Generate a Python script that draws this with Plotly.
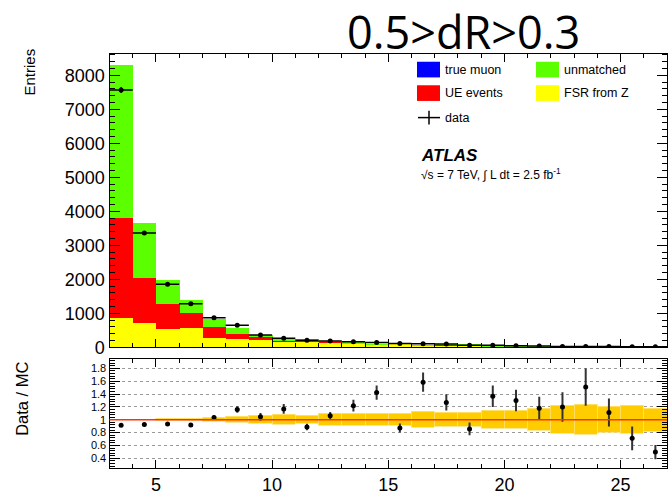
import plotly.graph_objects as go
import numpy as np

W, H = 669, 499

# ---- data ----
bin_lo = list(range(3, 27))
bin_centers = [b + 0.5 for b in bin_lo]

fsr_from_z = [866, 713, 548, 577, 289, 260, 211, 164, 190, 150, 115, 88,
              112, 56, 67, 65, 38, 32, 31, 21, 16, 19, 26, 31]
ue_events = [2951, 1327, 721, 424, 326, 144, 98, 36, 30, 20, 14, 10,
             14, 7, 8, 8, 5, 4, 3, 3, 2, 2, 3, 3]
unmatched = [4501, 1615, 722, 393, 225, 156, 41, 30, 20, 9, 6, 4,
             6, 3, 4, 3, 2, 2, 2, 1, 1, 1, 2, 2]
true_muon = [0] * 24
data_counts = [7568, 3367, 1860, 1281, 870, 648, 366, 269, 213, 190, 165, 145,
               115, 105, 100, 65, 62, 50, 42, 30, 28, 25, 22, 18]

ratio = [0.913, 0.924, 0.934, 0.919, 1.036, 1.158, 1.046, 1.168, 0.888, 1.061,
         1.219, 1.422, 0.873, 1.585, 1.27, 0.857, 1.366, 1.30, 1.178, 1.198,
         1.509, 1.112, 0.71, 0.496]
ratio_err = [0.008, 0.012, 0.02, 0.025, 0.035, 0.05, 0.06, 0.075, 0.05, 0.06,
             0.09, 0.11, 0.07, 0.15, 0.127, 0.10, 0.168, 0.168, 0.178, 0.229,
             0.29, 0.219, 0.183, 0.112]
mc_band = [0.003, 0.006, 0.015, 0.02, 0.036, 0.048, 0.064, 0.076, 0.066, 0.087,
           0.089, 0.10, 0.087, 0.127, 0.107, 0.115, 0.137, 0.142, 0.165, 0.216,
           0.239, 0.204, 0.219, 0.178]

y_ticks_top = [0, 1000, 2000, 3000, 4000, 5000, 6000, 7000, 8000]
y_ticks_ratio = [0.4, 0.6, 0.8, 1.0, 1.2, 1.4, 1.6, 1.8]
y_ticklabels_ratio = ["0.4", "0.6", "0.8", "1", "1.2", "1.4", "1.6", "1.8"]
x_ticks = [5, 10, 15, 20, 25]

title_text = "0.5>dR>0.3"

# ---- colours ----
C_YELLOW = "#FFFF00"
C_RED = "#FF0000"
C_GREEN = "#5CFF00"
C_BLUE = "#0000FF"
C_BAND = "#FFCC00"
C_LINE = "#FF3300"

FONT = "Liberation Sans, Arial, sans-serif"


def px(x):
    return x / W


def py(y):
    return 1 - y / H


fig = go.Figure()

for vals, col, name in [(fsr_from_z, C_YELLOW, "FSR from Z"),
                        (ue_events, C_RED, "UE events"),
                        (unmatched, C_GREEN, "unmatched"),
                        (true_muon, C_BLUE, "true muon")]:
    fig.add_trace(go.Bar(x=bin_centers, y=vals, width=1.0, marker_color=col,
                         marker_line_width=0, name=name, showlegend=False,
                         xaxis="x", yaxis="y"))

fig.add_trace(go.Scatter(
    x=bin_centers, y=data_counts, mode="markers",
    marker=dict(color="black", size=5),
    error_x=dict(type="constant", value=0.5, color="black", thickness=1.5, width=0),
    error_y=dict(type="data", array=list(np.sqrt(data_counts)), color="black",
                 thickness=1.5, width=0),
    showlegend=False, xaxis="x", yaxis="y"))

# ratio band
fig.add_trace(go.Bar(x=bin_centers, y=[2 * b for b in mc_band],
                     base=[1 - b for b in mc_band], width=1.0,
                     marker=dict(color=C_BAND, line=dict(color="#FFE27A", width=0.8)),
                     showlegend=False, xaxis="x2", yaxis="y2"))

fig.add_trace(go.Scatter(
    x=bin_centers, y=ratio, mode="markers",
    marker=dict(color="black", size=5),
    error_y=dict(type="data", array=ratio_err, color="#333333", thickness=2, width=0),
    showlegend=False, xaxis="x2", yaxis="y2"))

xdom = [px(109.5), px(667)]
axis_common = dict(showline=True, linecolor="black", linewidth=1.2, mirror="allticks",
                   ticks="inside", tickcolor="black", zeroline=False,
                   tickfont=dict(family=FONT, size=18, color="black"))

fig.update_layout(
    width=W, height=H, margin=dict(l=0, r=0, t=0, b=0),
    paper_bgcolor="white", plot_bgcolor="white",
    barmode="stack", bargap=0, showlegend=False,
    xaxis=dict(domain=xdom, range=[3, 27], anchor="y", showticklabels=False,
               tickvals=x_ticks, ticklen=8, showgrid=False,
               minor=dict(ticks="inside", dtick=1, ticklen=4, tickcolor="black"),
               **axis_common),
    yaxis=dict(domain=[py(354.5), py(55)], range=[0, 8630], anchor="x",
               tickvals=y_ticks_top, ticklen=10, showgrid=False,
               minor=dict(ticks="inside", dtick=200, ticklen=5, tickcolor="black"),
               **axis_common),
    xaxis2=dict(domain=xdom, range=[3, 27], anchor="y2", tickvals=x_ticks, ticklen=8,
                showgrid=False,
                minor=dict(ticks="inside", dtick=1, ticklen=4, tickcolor="black"),
                **axis_common),
    yaxis2=dict(domain=[py(477.5), py(366)], range=[0.25, 1.95], anchor="x2",
                tickvals=y_ticks_ratio, ticktext=y_ticklabels_ratio, ticklen=10,
                minor=dict(ticks="inside", dtick=0.04, ticklen=5, tickcolor="black"),
                showline=True, linecolor="black", linewidth=1.2, mirror="allticks",
                ticks="inside", tickcolor="black", zeroline=False,
                tickfont=dict(family=FONT, size=11, color="black"),
                showgrid=True, gridcolor="#9a9a9a", griddash="dot", gridwidth=1),
)

# red reference line at ratio = 1
fig.add_shape(type="line", xref="x2 domain", yref="y2", x0=0, x1=1, y0=1, y1=1,
              line=dict(color=C_LINE, width=1.5))

annotations = []
shapes = []

# legend boxes
legend_items = [(417, 71, C_BLUE, "true muon"), (536, 71, C_GREEN, "unmatched"),
                (417, 95, C_RED, "UE events"), (536, 95, C_YELLOW, "FSR from Z")]
for x0, yc, col, lab in legend_items:
    shapes.append(dict(type="rect", xref="paper", yref="paper",
                       x0=px(x0), x1=px(x0 + 23), y0=py(yc + 8), y1=py(yc - 8),
                       fillcolor=col, line=dict(width=0)))
    annotations.append(dict(x=px(x0 + 26), y=py(yc), xref="paper", yref="paper",
                            text=lab, showarrow=False, xanchor="left", yanchor="middle",
                            font=dict(family=FONT, size=12.5, color="black")))
# data legend symbol
shapes.append(dict(type="line", xref="paper", yref="paper", x0=px(418), x1=px(440),
                   y0=py(120), y1=py(120), line=dict(color="black", width=1.5)))
shapes.append(dict(type="line", xref="paper", yref="paper", x0=px(429), x1=px(429),
                   y0=py(113), y1=py(127), line=dict(color="black", width=1.5)))
annotations.append(dict(x=px(443), y=py(120), xref="paper", yref="paper", text="data",
                        showarrow=False, xanchor="left", yanchor="middle",
                        font=dict(family=FONT, size=12.5, color="black")))

annotations.append(dict(x=px(419), y=py(159), xref="paper", yref="paper",
                        text="<b><i>ATLAS</i></b>", showarrow=False, xanchor="left",
                        yanchor="middle", font=dict(family=FONT, size=17, color="black")))
annotations.append(dict(x=px(419), y=py(178), xref="paper", yref="paper",
                        text="√s = 7 TeV, ∫ L dt = 2.5 fb<sup>-1</sup>",
                        showarrow=False, xanchor="left", yanchor="middle",
                        font=dict(family=FONT, size=12, color="black")))

annotations.append(dict(x=px(30), y=py(74), xref="paper", yref="paper", text="Entries",
                        textangle=-90, showarrow=False, xanchor="center", yanchor="middle",
                        font=dict(family=FONT, size=15, color="black")))
annotations.append(dict(x=px(22), y=py(407), xref="paper", yref="paper", text="Data / MC",
                        textangle=-90, showarrow=False, xanchor="center", yanchor="middle",
                        font=dict(family=FONT, size=16.5, color="black")))

annotations.append(dict(x=px(463), y=py(32), xref="paper", yref="paper", text=title_text,
                        showarrow=False, xanchor="center", yanchor="middle",
                        font=dict(family="Open Sans, sans-serif", size=45, color="black")))

fig.update_layout(annotations=annotations, shapes=list(fig.layout.shapes) + shapes)

fig.write_html("out.html")
